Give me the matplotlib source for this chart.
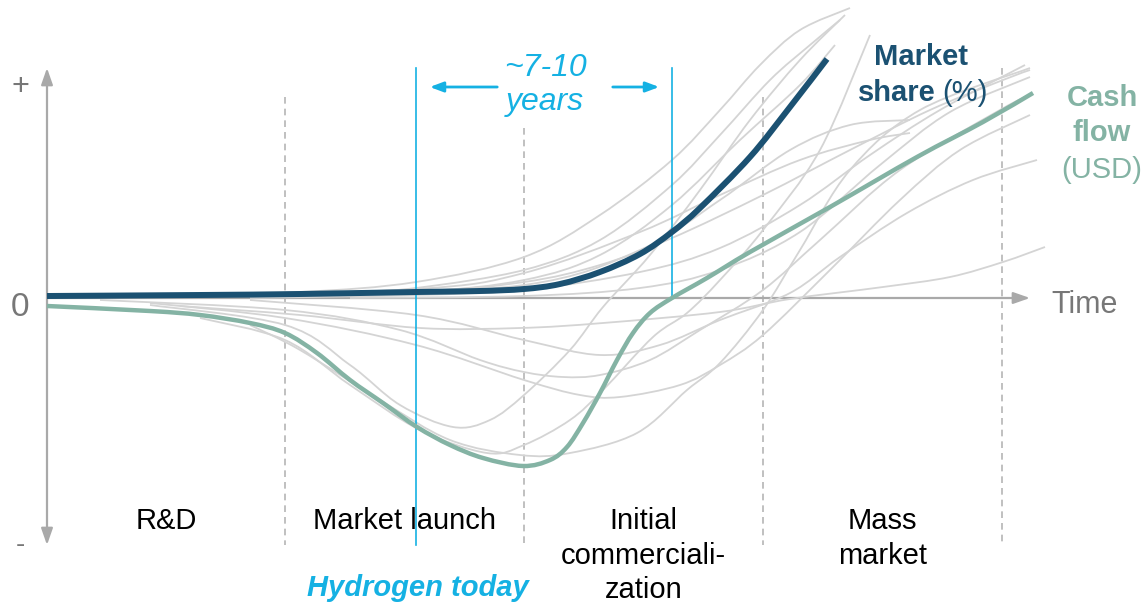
import numpy as np
import matplotlib.pyplot as plt
from matplotlib.path import Path
from matplotlib.patches import PathPatch

plt.rcParams['font.family'] = ['Liberation Sans', 'DejaVu Sans']

# time / value units (arbitrary scale, 0 = origin)
share_t = [0, 153, 253, 369, 433, 477, 513, 553, 593, 625, 653, 703, 743, 780]
share_v = [2, 3, 4, 6, 7, 9, 14, 26, 44, 66, 90, 141, 191, 239]

cash_t = [0, 103, 153, 203, 238, 270, 303, 336, 370, 403, 436, 476, 503, 520, 536, 553,
          570, 586, 603, 625, 660, 703, 783, 870, 936, 986]
cash_v = [-8, -13, -17, -25, -35, -55, -82, -105, -129, -147, -160, -168, -162, -149, -125, -95,
          -62, -35, -15, 0, 20, 46, 91, 141, 176, 205]

# background analogue curves (other technologies)
grey_curves = [
    ([103, 253, 369, 477, 553, 625, 673, 713, 753, 803], [2, 6, 16, 41, 83, 138, 188, 233, 268, 290]),
    ([153, 303, 369, 477, 553, 625, 673, 723, 763, 793], [2, 6, 10, 28, 58, 113, 163, 218, 253, 278]),
    ([203, 369, 477, 553, 625, 693, 753, 788], [1, 6, 18, 43, 93, 158, 213, 253]),
    ([103, 369, 477, 553, 625, 716, 803, 883, 956, 983], [1, 7, 16, 33, 60, 103, 148, 188, 218, 228]),
    ([203, 369, 477, 593, 673, 753, 823, 893, 978], [0, 3, 8, 26, 50, 93, 143, 188, 233]),
    ([303, 477, 593, 673, 753, 833, 903, 983], [0, 2, 10, 28, 66, 133, 186, 221]),
    ([103, 369, 477, 593, 673, 753, 823, 863], [1, 9, 25, 66, 103, 138, 158, 165]),
    ([253, 477, 593, 673, 743, 803, 863], [1, 13, 48, 98, 148, 173, 178]),
    ([133, 253, 373, 473, 556, 673, 743, 836, 903, 956, 998], [-8, -17, -30, -30, -25, -14, -1, 11, 21, 36, 51]),
    ([103, 238, 303, 353, 406, 443, 477, 523, 556, 603, 653, 703, 753, 798],
     [-7, -27, -67, -107, -129, -122, -97, -52, -9, 43, 108, 178, 238, 283]),
    ([153, 238, 303, 373, 440, 477, 523, 556, 606, 640, 673, 716, 773, 823],
     [-20, -42, -87, -132, -155, -147, -122, -92, -39, -15, 18, 68, 148, 263]),
    ([203, 253, 333, 403, 473, 523, 590, 640, 673, 716, 753, 803, 873, 983],
     [-27, -52, -102, -142, -157, -155, -135, -92, -65, -12, 48, 128, 188, 230]),
    ([53, 238, 353, 433, 477, 516, 553, 603, 653, 716, 773, 853, 953, 983],
     [-2, -12, -32, -62, -74, -79, -77, -62, -32, 8, 58, 128, 188, 203]),
    ([103, 238, 369, 477, 533, 573, 633, 673, 716, 783, 853, 913, 983],
     [-5, -20, -47, -82, -97, -99, -87, -67, -37, 28, 98, 148, 183]),
    ([203, 369, 477, 553, 613, 673, 743, 793, 860, 926, 990],
     [-2, -17, -42, -57, -47, -22, 5, 41, 85, 118, 138]),
]

phase_edges = [0, 238, 477, 716, 955]
phase_tops = [201, 170, 201, 230]
phase_labels = ['R&D', 'Market launch', 'Initial\ncommerciali-\nzation', 'Mass\nmarket']
today_t = 369
launch_end_t = 625

dark = '#1b5172'
teal = '#84b3a4'
cyan = '#15b1e3'
axis_grey = '#a9a9a9'


def smooth_line(ax, xs, ys, **kw):
    """ Draw a line through the points as cubic bezier segments """
    pts = np.column_stack([xs, ys]).astype(float)
    ext = np.vstack([pts[0], pts, pts[-1]])
    verts = [pts[0]]
    codes = [Path.MOVETO]
    for i in range(1, len(ext) - 2):
        p0, p1, p2, p3 = ext[i - 1], ext[i], ext[i + 1], ext[i + 2]
        verts += [p1 + (p2 - p0) / 6, p2 - (p3 - p1) / 6, p2]
        codes += [Path.CURVE4] * 3
    ax.add_patch(PathPatch(Path(verts, codes), fill=False, **kw))


fig = plt.figure(figsize=(11.42, 6.03), dpi=100)
ax = fig.add_axes([0, 0, 1, 1])
ax.set_xlim(-47, 1095)
ax.set_ylim(-305, 298)
ax.axis('off')

# phase separators
for t, top in zip(phase_edges[1:], phase_tops):
    ax.plot([t, t], [top, -247], color='#b5b5b5', lw=1.2, ls=(0, (4, 3)), zorder=1)

for i, lab in enumerate(phase_labels):
    mid = (phase_edges[i] + phase_edges[i + 1]) / 2
    for j, line in enumerate(lab.split('\n')):
        ax.text(mid, -223 - 34.5 * j, line, ha='center', va='center', fontsize=21,
                color='black', zorder=5)

# axes
ax.annotate('', xy=(0, 230), xytext=(0, -247),
            arrowprops=dict(arrowstyle='<|-|>,head_width=0.35,head_length=1.0',
                            color=axis_grey, lw=1.6, shrinkA=0, shrinkB=0), zorder=2)
ax.annotate('', xy=(983, 0), xytext=(0, 0),
            arrowprops=dict(arrowstyle='-|>,head_width=0.35,head_length=1.0',
                            color=axis_grey, lw=1.6, shrinkA=0, shrinkB=0), zorder=2)
ax.text(-27, 211, '+', ha='center', va='center', fontsize=22, color='#777777')
ax.text(-27, -9, '0', ha='center', va='center', fontsize=24, color='#777777')
ax.text(-27, -247, '-', ha='center', va='center', fontsize=20, color='#777777')
ax.text(1038, -7, 'Time', ha='center', va='center', fontsize=22, color='#777777')

for gt, gv in grey_curves:
    smooth_line(ax, gt, gv, edgecolor='#d4d4d4', lw=1.3, zorder=3)

# hydrogen timing
ax.plot([today_t, today_t], [230, -247], color=cyan, lw=1.2, zorder=4)
ax.plot([launch_end_t, launch_end_t], [230, 0], color=cyan, lw=1.2, zorder=4)
ax.annotate('', xy=(today_t + 11, 211), xytext=(453, 211),
            arrowprops=dict(arrowstyle='-|>,head_width=0.3,head_length=0.8', color=cyan, lw=2))
ax.annotate('', xy=(launch_end_t - 10, 211), xytext=(563, 211),
            arrowprops=dict(arrowstyle='-|>,head_width=0.3,head_length=0.8', color=cyan, lw=2))
ax.text(498, 230, '~7-10', ha='center', va='center', fontsize=23, style='italic', color=cyan)
ax.text(498, 196, 'years', ha='center', va='center', fontsize=23, style='italic', color=cyan)
ax.text(today_t + 2, -290, 'Hydrogen today', ha='center', va='center', fontsize=21,
        style='italic', weight='bold', color=cyan)

# main curves
smooth_line(ax, share_t, share_v, edgecolor=dark, lw=4.3, capstyle='butt', zorder=6)
smooth_line(ax, cash_t, cash_v, edgecolor=teal, lw=3.2, capstyle='butt', zorder=6)

ax.text(874, 241, 'Market', ha='center', va='center', fontsize=21, weight='bold', color=dark)
ax.text(850, 205, 'share', ha='center', va='center', fontsize=21, weight='bold', color=dark)
ax.text(918, 205, '(%)', ha='center', va='center', fontsize=21, color=dark)
ax.text(1055, 200, 'Cash', ha='center', va='center', fontsize=21, weight='bold', color=teal)
ax.text(1055, 165, 'flow', ha='center', va='center', fontsize=21, weight='bold', color=teal)
ax.text(1055, 128, '(USD)', ha='center', va='center', fontsize=21, color=teal)

fig.savefig('out.png', dpi=100)
